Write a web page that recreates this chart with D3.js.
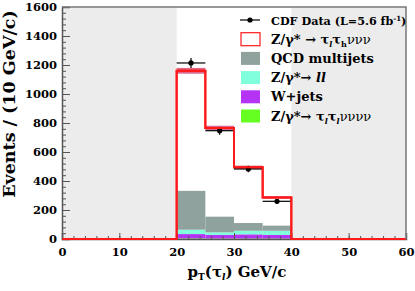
<!DOCTYPE html>
<html>
<head>
<meta charset="utf-8">
<script src="https://cdn.jsdelivr.net/npm/d3@7"></script>
<style>
body{margin:0;background:#fff}
svg{display:block}
text{font-family:"DejaVu Serif",serif;font-weight:bold;fill:#000}
</style>
</head>
<body>
<div id="chart"></div>
<script>

// DATA

const binLo = [20,25,30,35]
const binHi = [25,30,35,40]
const dataCounts = [1214,747,483,260]
const totalPred = [1160,766,494,287]
const predErr = [20,15,12,8]
const zTauTauLL = [4,3,3,3]
const wJets = [30,25,29,25]
const zLL = [30,18,25,29]
const qcd = [268,108,53,35]
const xTicks = [0,10,20,30,40,50,60]
const yTicks = [0,200,400,600,800,1000,1200,1400,1600]


// SETUP

const width = 415
const height = 291
const margin = {top:7,right:9,bottom:52,left:62}

const svg = d3.select("#chart")
.append("svg")
.attr("width",width)
.attr("height",height)

const x = d3.scaleLinear()
.domain([0,60])
.range([margin.left,width-margin.right])

const y = d3.scaleLinear()
.domain([0,1600])
.range([height-margin.bottom,margin.top])


// SHADED REGIONS

svg.selectAll("rect.shade")
.data([[0,20],[40,60]])
.enter()
.append("rect")
.attr("x",d=>x(d[0]))
.attr("width",d=>x(d[1])-x(d[0]))
.attr("y",y(1600))
.attr("height",y(0)-y(1600))
.attr("fill","#ececec")


// STACKED BACKGROUNDS

const layers = [
{vals:zTauTauLL,color:"#66ff22"},
{vals:wJets,color:"#b533f5"},
{vals:zLL,color:"#7fffdc"},
{vals:qcd,color:"#90a29e"}
]

const base = [0,0,0,0]
layers.forEach(layer=>{
const rows = layer.vals.map((v,i)=>({lo:binLo[i],hi:binHi[i],y0:base[i],y1:base[i]+v}))
rows.forEach((r,i)=>{base[i]=r.y1})
svg.append("g")
.selectAll("rect")
.data(rows)
.enter()
.append("rect")
.attr("x",d=>x(d.lo))
.attr("width",d=>x(d.hi)-x(d.lo))
.attr("y",d=>y(d.y1))
.attr("height",d=>y(d.y0)-y(d.y1))
.attr("fill",layer.color)
})


// UNCERTAINTY BAND

svg.append("g")
.selectAll("rect")
.data(totalPred.map((v,i)=>({lo:binLo[i],hi:binHi[i],v:v,e:predErr[i]})))
.enter()
.append("rect")
.attr("x",d=>x(d.lo))
.attr("width",d=>x(d.hi)-x(d.lo))
.attr("y",d=>y(d.v+d.e))
.attr("height",d=>y(d.v-d.e)-y(d.v+d.e))
.attr("fill","#d4406e")
.attr("opacity",0.8)


// TOTAL PREDICTION OUTLINE

const steps = [{x:0,v:0}]
binLo.forEach((lo,i)=>steps.push({x:lo,v:totalPred[i]}))
steps.push({x:40,v:0})
steps.push({x:60,v:0})

const stepLine = d3.line()
.x(d=>x(d.x))
.y(d=>y(d.v))
.curve(d3.curveStepAfter)

svg.append("path")
.datum(steps)
.attr("fill","none")
.attr("stroke","#ff1a1a")
.attr("stroke-width",2)
.attr("d",stepLine)


// DATA POINTS

const pts = dataCounts.map((v,i)=>({lo:binLo[i],hi:binHi[i],v:v,e:Math.sqrt(v)}))

const gData = svg.append("g")

gData.selectAll("line.h")
.data(pts)
.enter()
.append("line")
.attr("x1",d=>x(d.lo))
.attr("x2",d=>x(d.hi))
.attr("y1",d=>y(d.v))
.attr("y2",d=>y(d.v))
.attr("stroke","#000")
.attr("stroke-width",1.2)

gData.selectAll("line.v")
.data(pts)
.enter()
.append("line")
.attr("x1",d=>x((d.lo+d.hi)/2))
.attr("x2",d=>x((d.lo+d.hi)/2))
.attr("y1",d=>y(d.v+d.e))
.attr("y2",d=>y(d.v-d.e))
.attr("stroke","#000")
.attr("stroke-width",1.2)

gData.selectAll("circle")
.data(pts)
.enter()
.append("circle")
.attr("cx",d=>x((d.lo+d.hi)/2))
.attr("cy",d=>y(d.v))
.attr("r",2.6)
.attr("fill","#000")


// AXES

svg.append("g")
.attr("transform",`translate(0,${y(0)})`)
.call(d3.axisBottom(x).tickValues(xTicks).tickSize(-6).tickPadding(9).tickFormat(d3.format("d")))

svg.append("g")
.attr("transform",`translate(0,${y(0)})`)
.call(d3.axisBottom(x).tickValues(d3.range(0,61,2)).tickSize(-3).tickFormat(""))
.call(g=>g.select(".domain").remove())

svg.append("g")
.attr("transform",`translate(${x(0)},0)`)
.call(d3.axisLeft(y).tickValues(yTicks).tickSize(-8).tickPadding(5).tickFormat(d3.format("d")))

svg.append("g")
.attr("transform",`translate(${x(0)},0)`)
.call(d3.axisLeft(y).tickValues(d3.range(0,1601,40)).tickSize(-4).tickFormat(""))
.call(g=>g.select(".domain").remove())

svg.selectAll(".tick line").attr("stroke","#555")
svg.selectAll(".domain").attr("stroke","#555").attr("stroke-width",1.5)
svg.selectAll(".tick text").style("font-size","11.5px").style("font-family","DejaVu Serif").style("font-weight","bold").attr("fill","#000")

// redraw the red base over the x axis line
svg.append("path")
.datum(steps)
.attr("fill","none")
.attr("stroke","#ff1a1a")
.attr("stroke-width",2)
.attr("d",stepLine)

// frame top + right
svg.append("path")
.attr("d",`M${x(0)},${y(1600)}H${x(60)}V${y(0)}`)
.attr("fill","none")
.attr("stroke","#777")
.attr("stroke-width",1.5)


// AXIS TITLES

svg.append("text")
.attr("transform",`translate(15,104) rotate(-90)`)
.attr("text-anchor","middle")
.style("font-size","17.5px")
.text("Events / (10 GeV/c)")

const xt = svg.append("text")
.attr("x",237)
.attr("y",277)
.attr("text-anchor","middle")
.style("font-size","15px")
xt.append("tspan").text("p")
xt.append("tspan").attr("dy",3).style("font-size","9px").text("T")
xt.append("tspan").attr("dy",-3).text("(τ")
xt.append("tspan").attr("dy",3).style("font-size","9px").style("font-style","italic").text("l")
xt.append("tspan").attr("dy",-3).text(") GeV/c")


// LEGEND

const legendRows = [
{type:"data"},
{type:"box",fill:"#fff",stroke:"#ff1a1a"},
{type:"box",fill:"#90a29e"},
{type:"box",fill:"#7fffdc"},
{type:"box",fill:"#b533f5"},
{type:"box",fill:"#66ff22"}
]

const lg = svg.append("g").style("font-size","13px")
const ly = i=>20+i*19.2

legendRows.forEach((r,i)=>{
if(r.type==="data"){
lg.append("line").attr("x1",240).attr("x2",260).attr("y1",ly(i)).attr("y2",ly(i)).attr("stroke","#000").attr("stroke-width",1.2)
lg.append("circle").attr("cx",250).attr("cy",ly(i)).attr("r",2.6).attr("fill","#000")
}else{
lg.append("rect").attr("x",241).attr("y",ly(i)-6.5).attr("width",19).attr("height",13)
.attr("fill",r.fill).attr("stroke",r.stroke||"none").attr("stroke-width",1.2)
}
})

function legText(i){
return lg.append("text").attr("x",271).attr("y",ly(i)+4.5)
}

let t = legText(0).style("font-size","11.2px")
t.append("tspan").text("CDF Data (L=5.6 fb")
t.append("tspan").attr("dy",-4).style("font-size","7px").text("-1")
t.append("tspan").attr("dy",4).text(")")

t = legText(1)
t.append("tspan").text("Z/γ* → τ")
t.append("tspan").attr("dy",3).style("font-size","8px").style("font-style","italic").text("l")
t.append("tspan").attr("dy",-3).text("τ")
t.append("tspan").attr("dy",3).style("font-size","8px").text("h")
t.append("tspan").attr("dy",-3).style("font-weight","normal").text("ννν")

legText(2).text("QCD multijets")

t = legText(3)
t.append("tspan").text("Z/γ*→ ")
t.append("tspan").style("font-style","italic").text("ll")

legText(4).text("W+jets")

t = legText(5)
t.append("tspan").text("Z/γ*→ τ")
t.append("tspan").attr("dy",3).style("font-size","8px").style("font-style","italic").text("l")
t.append("tspan").attr("dy",-3).text("τ")
t.append("tspan").attr("dy",3).style("font-size","8px").style("font-style","italic").text("l")
t.append("tspan").attr("dy",-3).style("font-weight","normal").text("νννν")

</script>
</body>
</html>
